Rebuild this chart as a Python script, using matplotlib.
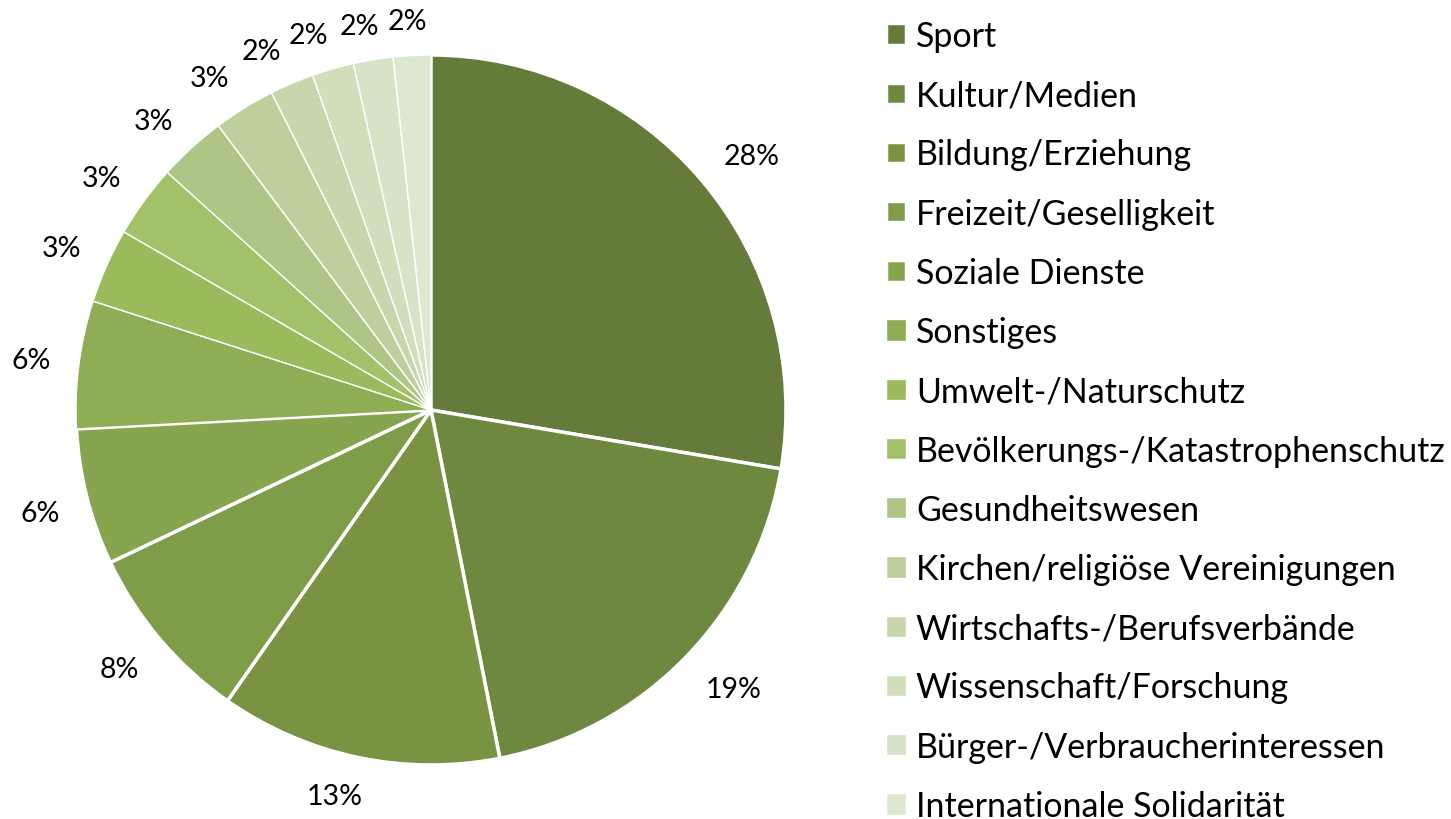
import numpy as np
import matplotlib.pyplot as plt

plt.rcParams['font.family'] = ['Lato', 'DejaVu Sans']

# shares in percent, in legend order (clockwise from the top)
categories = [
    'Sport', 'Kultur/Medien', 'Bildung/Erziehung', 'Freizeit/Geselligkeit',
    'Soziale Dienste', 'Sonstiges', 'Umwelt-/Naturschutz',
    'Bevölkerungs-/Katastrophenschutz', 'Gesundheitswesen',
    'Kirchen/religiöse Vereinigungen', 'Wirtschafts-/Berufsverbände',
    'Wissenschaft/Forschung', 'Bürger-/Verbraucherinteressen',
    'Internationale Solidarität',
]
shares = [27.6, 19.2, 12.8, 8.2, 6.2, 5.8, 3.4, 3.3, 3.1, 2.8, 2.0, 1.9, 1.8, 1.7]
pct_labels = ['28%', '19%', '13%', '8%', '6%', '6%', '3%', '3%', '3%', '3%',
              '2%', '2%', '2%', '2%']

colors = ['#647b3a', '#6e893f', '#799343', '#7f9c48', '#87a44e', '#8fad55',
          '#9bba5c', '#a2c168', '#aec585', '#bccf9c', '#c7d6ad', '#d0debc',
          '#d7e3c6', '#dee7d0']

fig = plt.figure(figsize=(14.51, 8.2), dpi=100)
R_PX = 355
ax = fig.add_axes([76 / 1451, 54 / 820, 710 / 1451, 710 / 820])

wedges, texts = ax.pie(
    shares, labels=pct_labels, colors=colors, startangle=90,
    counterclock=False, labeldistance=1.1,
    wedgeprops=dict(edgecolor='white', linewidth=1),
    textprops=dict(fontsize=20.5, color='black'),
)
for w in wedges[:5]:
    w.set_linewidth(2.5)

ax.set_xlim(-1, 1)
ax.set_ylim(-1, 1)
ax.set_aspect('equal')

# "outside end" labels: box pushed off the rim, corner-wise
fig.canvas.draw()
renderer = fig.canvas.get_renderer()
gap = 28
for w, t in zip(wedges, texts):
    t.set_horizontalalignment('center')
    t.set_verticalalignment('center_baseline')
    bb = t.get_window_extent(renderer)
    hw = bb.width / 2
    hh = bb.height / 2 * 0.7
    ang = np.deg2rad((w.theta1 + w.theta2) / 2)
    c, s = np.cos(ang), np.sin(ang)
    dx = R_PX * c + gap * c + hw * np.sign(c) * min(1, abs(c) * 3)
    dy = R_PX * s + gap * s + hh * np.sign(s) * min(1, abs(s) * 3)
    t.set_position((dx / R_PX, dy / R_PX))

fig.legend(
    wedges, categories, loc='upper left',
    bbox_to_anchor=(872 / 1451, 0.991), frameon=False,
    fontsize=24.5, handlelength=0.59, handleheight=0.59,
    handletextpad=0.3, labelspacing=0.80, borderaxespad=0,
)

fig.savefig('out.png', dpi=100)
